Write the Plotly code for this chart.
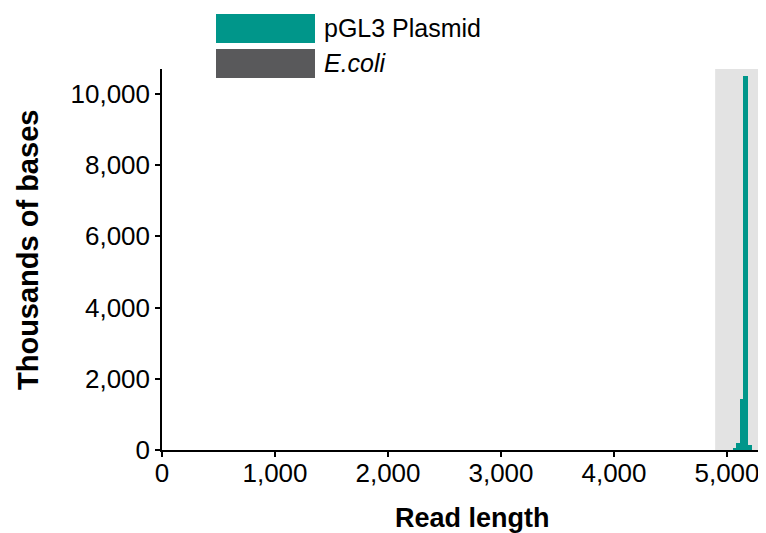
import plotly.graph_objects as go

# Data
bin_left = [5056, 5080, 5115, 5139, 5186]
bin_right = [5080, 5115, 5139, 5186, 5219]
plasmid_kb = [50, 200, 1430, 10500, 130]
ecoli_kb = [0, 0, 0, 0, 0]
series_names = ["pGL3 Plasmid", "<i>E.coli</i>"]
series_colors = ["#00968A", "#59595B"]
highlight = [4895, 5287]
x_ticks = [0, 1000, 2000, 3000, 4000, 5000]
y_ticks = [0, 2000, 4000, 6000, 8000, 10000]
x_title = "Read length"
y_title = "Thousands of bases"

centers = [(a + b) / 2 for a, b in zip(bin_left, bin_right)]
widths = [b - a for a, b in zip(bin_left, bin_right)]

OFF = 8  # page body margin
W, H = 766 - OFF, 533 - OFF
L, R, T, B = 162 - OFF, 0, 69 - OFF, 533 - 450
PW, PH = W - L - R, H - T - B
FONT = "Liberation Sans, Arial"

def px_x(x):
    return (x - OFF - L) / PW

def px_y(y):
    return (H - B - (y - OFF)) / PH

fig = go.Figure()
fig.add_trace(go.Bar(x=centers, y=plasmid_kb, width=widths, name=series_names[0],
                     marker=dict(color=series_colors[0], line=dict(width=0)), showlegend=False))
fig.add_trace(go.Bar(x=centers, y=ecoli_kb, width=widths, name=series_names[1],
                     marker=dict(color=series_colors[1], line=dict(width=0)), showlegend=False))

fig.add_shape(type="rect", xref="x", yref="paper", x0=highlight[0], x1=highlight[1],
              y0=0, y1=1, fillcolor="#E3E3E3", line=dict(width=0), layer="below")

# Legend drawn as large swatches
legend_y = [[14, 43], [49, 78]]
for i, name in enumerate(series_names):
    y0, y1 = legend_y[i]
    fig.add_shape(type="rect", xref="paper", yref="paper",
                  x0=px_x(216), x1=px_x(315), y0=px_y(y1), y1=px_y(y0),
                  fillcolor=series_colors[i], line=dict(width=0))
    fig.add_annotation(xref="paper", yref="paper",
                       x=px_x(322), y=px_y((y0 + y1) / 2),
                       text=name, showarrow=False, xanchor="left", yanchor="middle",
                       font=dict(size=25, color="black", family=FONT))

# Axis titles
fig.add_annotation(xref="paper", yref="paper", x=px_x(472), y=px_y(518),
                   text="<b>" + x_title + "</b>", showarrow=False,
                   xanchor="center", yanchor="middle",
                   font=dict(size=27, color="black", family=FONT))
fig.add_annotation(xref="paper", yref="paper", x=px_x(28), y=px_y(250),
                   text="<b>" + y_title + "</b>", showarrow=False, textangle=-90,
                   xanchor="center", yanchor="middle",
                   font=dict(size=29, color="black", family=FONT))

fig.update_layout(
    width=W, height=H,
    margin=dict(l=L, r=R, t=T, b=B),
    plot_bgcolor="white", paper_bgcolor="white",
    barmode="overlay", bargap=0,
    font=dict(family=FONT, size=26, color="black"),
    xaxis=dict(range=[0, 5345], tickvals=x_ticks, tickformat=",d",
               showline=True, linecolor="black", linewidth=1.5,
               ticks="outside", ticklen=5, tickwidth=1.5, tickcolor="black",
               showgrid=False, zeroline=False, tickfont=dict(size=26),
               ticklabelstandoff=-6),
    yaxis=dict(range=[0, 10700], tickvals=y_ticks, tickformat=",d",
               showline=True, linecolor="black", linewidth=1.5,
               ticks="outside", ticklen=5, tickwidth=1.5, tickcolor="black",
               showgrid=False, zeroline=False, tickfont=dict(size=26)),
)

fig.write_html("out.html")
